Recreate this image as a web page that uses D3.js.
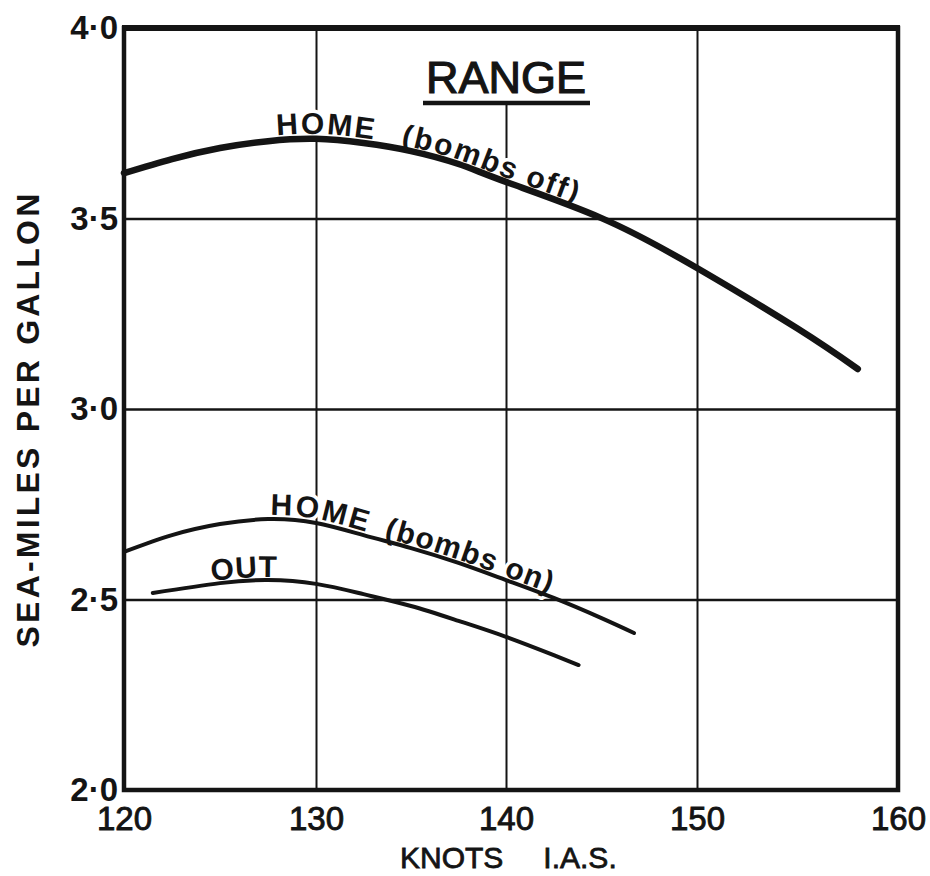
<!DOCTYPE html>
<html>
<head>
<meta charset="utf-8">
<script src="https://cdn.jsdelivr.net/npm/d3@7"></script>
<style>
  html, body { margin: 0; padding: 0; background: #fff; }
  svg { display: block; font-family: "Liberation Sans", Arial, sans-serif; }
</style>
</head>
<body>
<svg id="chart" width="930" height="876"></svg>
<script>
// ---- data ----
const knotsTicks = [120, 130, 140, 150, 160];
const knotsTickLabels = ["120", "130", "140", "150", "160"];
const valueTicks = [2.0, 2.5, 3.0, 3.5, 4.0];
const valueTickLabels = ["2·0", "2·5", "3·0", "3·5", "4·0"];

const homeOffKnots  = [120, 122.5, 125, 127.5, 130, 132.5, 135, 137.5, 140, 145, 150, 155, 158];
const homeOffValues = [3.619, 3.656, 3.685, 3.703, 3.709, 3.698, 3.677, 3.643, 3.596, 3.501, 3.370, 3.211, 3.105];

const homeOnKnots  = [120, 122.5, 125, 127.5, 130, 132.5, 135, 137.5, 140, 142.5, 145, 146.7];
const homeOnValues = [2.625, 2.669, 2.698, 2.711, 2.701, 2.669, 2.635, 2.596, 2.551, 2.504, 2.451, 2.412];

const outKnots  = [121.5, 125, 127.5, 130, 132.5, 135, 137.5, 140, 142.5, 143.8];
const outValues = [2.517, 2.543, 2.551, 2.541, 2.514, 2.483, 2.444, 2.402, 2.354, 2.328];

const titleText = "RANGE";
const xTitle = ["KNOTS", "I.A.S."];
const yTitle = "SEA-MILES PER GALLON";
const seriesLabels = [["HOME", "(bombs off)"], ["HOME", "(bombs on)"], ["OUT"]];

// ---- layout ----
const svg = d3.select("#chart");
const x = d3.scaleLinear().domain(knotsTicks).range([124, 316, 506, 697, 898]);
const y = d3.scaleLinear().domain([2, 4]).range([790, 28]);
const ink = "#141414";

// grid
const gx = svg.append("g").attr("transform", `translate(0,${y(2)})`)
  .call(d3.axisBottom(x).tickValues(knotsTicks.slice(1, -1)).tickSize(-(y(2) - y(4))).tickFormat(""));
gx.select(".domain").remove();
gx.selectAll("line").attr("stroke", ink).attr("stroke-width", 2);

const gy = svg.append("g").attr("transform", `translate(${x(120)},0)`)
  .call(d3.axisLeft(y).tickValues(valueTicks.slice(1, -1)).tickSize(-(x(160) - x(120))).tickFormat(""));
gy.select(".domain").remove();
gy.selectAll("line").attr("stroke", ink).attr("stroke-width", 2.5);

// title (with white backing that hides the grid)
svg.append("rect").attr("x", 415).attr("y", y(4)).attr("width", 185).attr("height", 74).attr("fill", "#fff");
svg.append("text").attr("x", 506).attr("y", 93).attr("text-anchor", "middle")
  .attr("font-size", 45).attr("fill", ink).attr("stroke", ink).attr("stroke-width", 1.2)
  .text(titleText);
svg.append("line").attr("x1", 423).attr("x2", 590).attr("y1", 103).attr("y2", 103)
  .attr("stroke", ink).attr("stroke-width", 4.5);

// curves
const line = d3.line().x(d => x(d[0])).y(d => y(d[1])).curve(d3.curveNatural);
const series = [
  { k: homeOffKnots, v: homeOffValues, w: 6.5, label: seriesLabels[0], lx: [277, 400], ls: [2, 1.8], dy: [-5, -4] },
  { k: homeOnKnots,  v: homeOnValues,  w: 4,   label: seriesLabels[1], lx: [270, 383], ls: [2.2, 1.2], dy: [-4, -3] },
  { k: outKnots,     v: outValues,     w: 4,   label: seriesLabels[2], lx: [212], ls: [0.8], dy: [-3] }
];

const defs = svg.append("defs");
const labelLayer = svg.append("g");
const curveLayer = svg.append("g");

function offsetAtX(node, tx) {
  let lo = 0, hi = node.getTotalLength();
  for (let i = 0; i < 40; i++) {
    const mid = (lo + hi) / 2;
    if (node.getPointAtLength(mid).x < tx) lo = mid; else hi = mid;
  }
  return lo;
}

series.forEach((s, i) => {
  const pts = s.k.map((k, j) => [k, s.v[j]]);
  const id = "curve" + i;
  const p = defs.append("path").attr("id", id).attr("d", line(pts));
  curveLayer.append("path").attr("d", line(pts)).attr("fill", "none")
    .attr("stroke", ink).attr("stroke-width", s.w).attr("stroke-linecap", "round");
  s.label.forEach((part, j) => {
    const off = offsetAtX(p.node(), s.lx[j]);
    labelLayer.append("text")
      .attr("font-size", 30).attr("font-weight", 700).attr("fill", ink)
      .attr("letter-spacing", s.ls[j])
      .attr("stroke", "#fff").attr("stroke-width", 7).attr("paint-order", "stroke")
      .attr("stroke-linejoin", "round")
      .append("textPath").attr("href", "#" + id).attr("startOffset", off)
      .append("tspan").attr("dy", s.dy[j]).text(part);
  });
});

// frame
svg.append("rect").attr("x", x(120)).attr("y", y(4)).attr("width", x(160) - x(120)).attr("height", y(2) - y(4))
  .attr("fill", "none").attr("stroke", ink).attr("stroke-width", 4.5);
svg.append("line").attr("x1", x(120) - 2).attr("x2", x(160) + 2).attr("y1", y(4)).attr("y2", y(4))
  .attr("stroke", ink).attr("stroke-width", 6);

// axes labels
const ax = svg.append("g").attr("transform", `translate(0,${y(2)})`)
  .call(d3.axisBottom(x).tickValues(knotsTicks).tickSize(0).tickPadding(17)
    .tickFormat((d, i) => knotsTickLabels[i]));
ax.select(".domain").remove();
ax.selectAll("text").attr("font-size", 33).attr("font-family", "Liberation Sans, Arial, sans-serif")
  .attr("fill", ink).attr("stroke", ink).attr("stroke-width", 0.9);

const ay = svg.append("g").attr("transform", `translate(${x(120)},0)`)
  .call(d3.axisLeft(y).tickValues(valueTicks).tickSize(0).tickPadding(6)
    .tickFormat((d, i) => valueTickLabels[i]));
ay.select(".domain").remove();
ay.selectAll("text").attr("font-size", 33).attr("font-family", "Liberation Sans, Arial, sans-serif")
  .attr("fill", ink).attr("font-weight", 700);

// axis titles
const xt = svg.append("text").attr("x", 400).attr("y", 868).attr("font-size", 30)
  .attr("fill", ink).attr("stroke", ink).attr("stroke-width", 0.8);
xt.append("tspan").text(xTitle[0]);
xt.append("tspan").attr("dx", 40).text(xTitle[1]);

svg.append("text").attr("transform", "translate(39,419) rotate(-90)").attr("text-anchor", "middle")
  .attr("font-size", 32).attr("font-weight", 700).attr("letter-spacing", 3.2).attr("fill", ink)
  .text(yTitle);
</script>
</body>
</html>
